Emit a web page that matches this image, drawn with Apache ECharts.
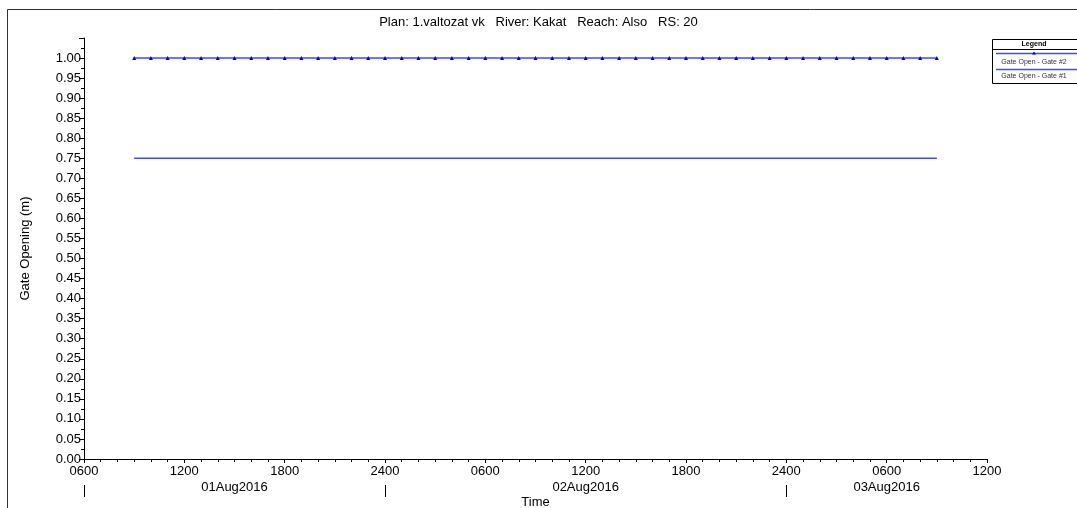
<!DOCTYPE html>
<html>
<head>
<meta charset="utf-8">
<script src="https://cdn.jsdelivr.net/npm/echarts@6/dist/echarts.min.js"></script>
<style>
  html, body { margin: 0; padding: 0; background: #fff; }
  #chart { width: 1077px; height: 508px; }
</style>
</head>
<body>
<div id="chart"></div>
<script>
// Hours counted from 01Aug2016 0000
const hours = [9, 10, 11, 12, 13, 14, 15, 16, 17, 18, 19, 20, 21, 22, 23, 24,
  25, 26, 27, 28, 29, 30, 31, 32, 33, 34, 35, 36, 37, 38, 39, 40,
  41, 42, 43, 44, 45, 46, 47, 48, 49, 50, 51, 52, 53, 54, 55, 56, 57];

// Gate opening (m)
const gate2 = [1.00, 1.00, 1.00, 1.00, 1.00, 1.00, 1.00, 1.00, 1.00, 1.00, 1.00, 1.00, 1.00, 1.00, 1.00, 1.00,
  1.00, 1.00, 1.00, 1.00, 1.00, 1.00, 1.00, 1.00, 1.00, 1.00, 1.00, 1.00, 1.00, 1.00, 1.00, 1.00,
  1.00, 1.00, 1.00, 1.00, 1.00, 1.00, 1.00, 1.00, 1.00, 1.00, 1.00, 1.00, 1.00, 1.00, 1.00, 1.00, 1.00];
const gate1 = [0.75, 0.75, 0.75, 0.75, 0.75, 0.75, 0.75, 0.75, 0.75, 0.75, 0.75, 0.75, 0.75, 0.75, 0.75, 0.75,
  0.75, 0.75, 0.75, 0.75, 0.75, 0.75, 0.75, 0.75, 0.75, 0.75, 0.75, 0.75, 0.75, 0.75, 0.75, 0.75,
  0.75, 0.75, 0.75, 0.75, 0.75, 0.75, 0.75, 0.75, 0.75, 0.75, 0.75, 0.75, 0.75, 0.75, 0.75, 0.75, 0.75];

// Day labels on the time axis
const dayLabels = ['01Aug2016', '02Aug2016', '03Aug2016'];
const dayLabelHours = [15, 36, 54];
const dayStartHours = [6, 24, 48];

const seriesNames = ['Gate Open - Gate #2', 'Gate Open - Gate #1'];
const titleText = 'Plan: 1.valtozat vk   River: Kakat   Reach: Also   RS: 20';

const FONT = '"Liberation Sans", Arial, sans-serif';
const LINE = '#4646ff';
const MARK = '#0000e6';

function hhmm(h) {
  const r = h % 24;
  const v = r === 0 ? 24 : r;
  return (v < 10 ? '0' : '') + v + '00';
}

const chart = echarts.init(document.getElementById('chart'), null, { renderer: 'canvas' });

const lx = 992, ly = 39, lw = 100;

chart.setOption({
  animation: false,
  backgroundColor: '#fff',
  textStyle: { fontFamily: FONT },
  title: {
    text: titleText,
    left: 'center',
    top: 11,
    textStyle: { fontFamily: FONT, fontSize: 13, fontWeight: 'normal', color: '#000' }
  },
  grid: { left: 84, right: 90, top: 38, bottom: 49, containLabel: false, outerBoundsMode: 'none' },
  xAxis: [
    {
      type: 'value', min: 6, max: 60, interval: 6,
      name: 'Time', nameLocation: 'middle', nameGap: 37,
      nameTextStyle: { fontFamily: FONT, fontSize: 13, color: '#000' },
      axisLine: { lineStyle: { color: '#000', width: 1 } },
      axisTick: { length: 4, lineStyle: { color: '#000' } },
      minorTick: { show: true, splitNumber: 6, length: 3, lineStyle: { color: '#000' } },
      splitLine: { show: false },
      axisLabel: { margin: 6, fontSize: 13, color: '#000', fontFamily: FONT, formatter: hhmm }
    },
    {
      type: 'value', min: 6, max: 60, position: 'bottom',
      axisLine: { show: false },
      axisTick: { show: false },
      splitLine: { show: false },
      axisLabel: {
        margin: 22, fontSize: 13, color: '#000', fontFamily: FONT,
        customValues: dayLabelHours,
        formatter: v => dayLabels[dayLabelHours.indexOf(v)] || ''
      }
    },
    {
      type: 'value', min: 6, max: 60, position: 'bottom', offset: 26,
      axisLine: { show: false },
      axisTick: { show: true, length: 12, customValues: dayStartHours, lineStyle: { color: '#000' } },
      splitLine: { show: false },
      axisLabel: { show: false }
    }
  ],
  yAxis: {
    type: 'value', min: 0, max: 1.05, interval: 0.05,
    name: 'Gate Opening (m)', nameLocation: 'middle', nameGap: 52,
    nameTextStyle: { fontFamily: FONT, fontSize: 13, color: '#000' },
    axisLine: { show: true, lineStyle: { color: '#000', width: 1 } },
    axisTick: { show: true, length: 5, lineStyle: { color: '#000' } },
    minorTick: { show: true, splitNumber: 2, length: 3, lineStyle: { color: '#000' } },
    splitLine: { show: false },
    axisLabel: {
      margin: 3, fontSize: 13, color: '#000', fontFamily: FONT,
      formatter: v => (v > 1.001 ? '' : v.toFixed(2))
    }
  },
  series: [
    {
      name: seriesNames[0], type: 'line',
      data: hours.map((h, i) => [h, gate2[i]]),
      symbol: 'triangle', symbolSize: 4, showSymbol: true,
      itemStyle: { color: MARK },
      lineStyle: { color: LINE, width: 1.4 }
    },
    {
      name: seriesNames[1], type: 'line',
      data: hours.map((h, i) => [h, gate1[i]]),
      showSymbol: false, symbol: 'none',
      lineStyle: { color: LINE, width: 1.4 }
    }
  ],
  graphic: [
    // outer frame
    { type: 'rect', shape: { x: 7.5, y: 9.5, width: 1200, height: 600 },
      style: { fill: 'none', stroke: '#333', lineWidth: 1 }, silent: true },
    // legend box
    { type: 'rect', shape: { x: lx + 0.5, y: ly + 0.5, width: lw, height: 44 },
      style: { fill: '#fff', stroke: '#000', lineWidth: 1 } },
    { type: 'line', shape: { x1: lx, y1: ly + 10.5, x2: lx + lw, y2: ly + 10.5 },
      style: { stroke: '#000', lineWidth: 1 } },
    { type: 'text', x: 1034, y: ly + 5.5,
      style: { text: 'Legend', fontFamily: FONT, fontSize: 7, fontWeight: 'bold', fill: '#000',
               align: 'center', verticalAlign: 'middle' } },
    { type: 'line', shape: { x1: lx + 4, y1: ly + 14.5, x2: 1077, y2: ly + 14.5 },
      style: { stroke: LINE, lineWidth: 1.4 } },
    { type: 'polygon', shape: { points: [[1034, ly + 12.5], [1036, ly + 15.5], [1032, ly + 15.5]] },
      style: { fill: MARK } },
    { type: 'text', x: 1034, y: ly + 23.5,
      style: { text: seriesNames[0], fontFamily: FONT, fontSize: 7, fill: '#333',
               align: 'center', verticalAlign: 'middle' } },
    { type: 'line', shape: { x1: lx + 4, y1: ly + 30.5, x2: 1077, y2: ly + 30.5 },
      style: { stroke: LINE, lineWidth: 1.4 } },
    { type: 'text', x: 1034, y: ly + 37.5,
      style: { text: seriesNames[1], fontFamily: FONT, fontSize: 7, fill: '#333',
               align: 'center', verticalAlign: 'middle' } }
  ]
});
</script>
</body>
</html>
